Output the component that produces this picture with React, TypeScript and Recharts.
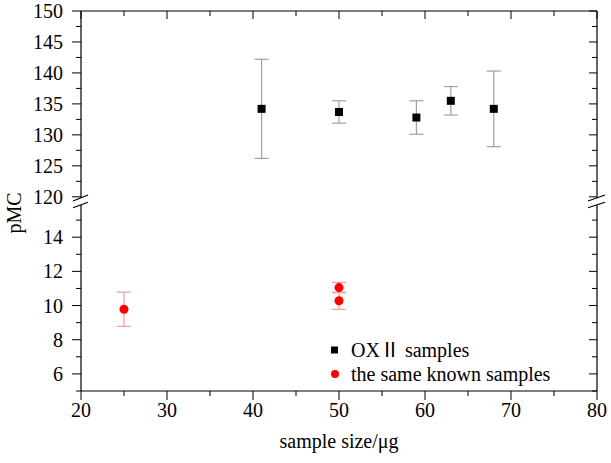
import React from 'react';
import { ScatterChart, Scatter, XAxis, YAxis, ErrorBar } from 'recharts';

const FONT = "'Liberation Serif', 'Noto Sans CJK SC', serif";

// OX II samples (upper panel)
const oxSize = [41, 50, 59, 63, 68];
const oxPmc = [134.2, 133.7, 132.8, 135.5, 134.2];
const oxErr = [8.0, 1.8, 2.7, 2.3, 6.1];

// the same known samples (lower panel)
const knownSize = [25, 50, 50];
const knownPmc = [9.78, 11.05, 10.28];
const knownErr = [1.0, 0.3, 0.5];

const xMajor = [20, 30, 40, 50, 60, 70, 80];
const xMinor = [25, 35, 45, 55, 65, 75];
const upperMajor = [120, 125, 130, 135, 140, 145, 150];
const upperMinor = [122.5, 127.5, 132.5, 137.5, 142.5, 147.5];
const lowerMajor = [6, 8, 10, 12, 14];
const lowerMinor = [5, 7, 9, 11, 13, 15];

const oxData = oxSize.map((x, i) => ({ x, y: oxPmc[i], err: oxErr[i] }));
const knownData = knownSize.map((x, i) => ({ x, y: knownPmc[i], err: knownErr[i] }));

const sortNum = (a: number[], b: number[]) => [...a, ...b].sort((p, q) => p - q);

type Side = 'left' | 'right' | 'top' | 'bottom';

// tick line + label drawn from the axis point the library hands over
const makeTick = (side: Side, majors: number[], labels: boolean) => (props: any) => {
  const { x, y, payload } = props;
  const v = payload.value;
  const major = majors.includes(v);
  const len = major ? (side === 'left' || side === 'bottom' ? 9 : 8) : 5;
  let line;
  if (side === 'left') line = <line x1={x - len} y1={y} x2={x} y2={y} stroke="#000" />;
  else if (side === 'right') line = <line x1={x - len} y1={y} x2={x} y2={y} stroke="#000" />;
  else line = <line x1={x} y1={y} x2={x} y2={y + len} stroke="#000" />;
  let label = null;
  if (labels && major) {
    if (side === 'left')
      label = (
        <text x={x - 18} y={y + 7} textAnchor="end" fontFamily={FONT} fontSize={20} fill="#000">
          {v}
        </text>
      );
    if (side === 'bottom')
      label = (
        <text x={x} y={y + 26} textAnchor="middle" fontFamily={FONT} fontSize={20} fill="#000">
          {v}
        </text>
      );
  }
  return (
    <g>
      {line}
      {label}
    </g>
  );
};

const axisStroke = { stroke: '#000', strokeWidth: 1.2 };

export default function App() {
  return (
    <div style={{ position: 'absolute', left: 0, top: 0, width: 611, height: 463, background: '#fff' }}>
      <style>{`.recharts-surface{overflow:visible}`}</style>
      <div style={{ position: 'absolute', left: 0, top: 0 }}>
        <ScatterChart width={611} height={203} margin={{ top: 10, right: 13, left: 0, bottom: 0 }}>
          <XAxis
            type="number"
            dataKey="x"
            orientation="top"
            height={1}
            domain={[20, 80]}
            ticks={sortNum(xMajor, xMinor)}
            interval={0}
            tickSize={0}
            tickMargin={0}
            tickLine={false}
            axisLine={axisStroke}
            tick={makeTick('top', xMajor, false)}
          />
          <YAxis
            type="number"
            dataKey="y"
            width={81}
            domain={[119, 150]}
            allowDataOverflow
            ticks={sortNum(upperMajor, upperMinor)}
            interval={0}
            tickSize={0}
            tickMargin={0}
            tickLine={false}
            axisLine={axisStroke}
            tick={makeTick('left', upperMajor, true)}
          />
          <YAxis
            yAxisId="r"
            type="number"
            orientation="right"
            width={1}
            domain={[119, 150]}
            allowDataOverflow
            ticks={sortNum(upperMajor, upperMinor)}
            interval={0}
            tickSize={0}
            tickMargin={0}
            tickLine={false}
            axisLine={axisStroke}
            tick={makeTick('right', upperMajor, false)}
          />
          <Scatter name="OXⅡ samples" data={oxData} fill="#000" shape="square" isAnimationActive={false}>
            <ErrorBar dataKey="err" direction="y" width={7} stroke="#a0a0a0" strokeWidth={1.2} />
          </Scatter>
        </ScatterChart>
      </div>
      <div style={{ position: 'absolute', left: 0, top: 203 }}>
        <ScatterChart width={611} height={260} margin={{ top: 0, right: 13, left: 0, bottom: 0 }}>
          <XAxis
            type="number"
            dataKey="x"
            height={72}
            domain={[20, 80]}
            ticks={sortNum(xMajor, xMinor)}
            interval={0}
            tickSize={0}
            tickMargin={0}
            tickLine={false}
            axisLine={axisStroke}
            tick={makeTick('bottom', xMajor, true)}
            label={{ value: 'sample size/μg', position: 'insideBottom', offset: 15, fontFamily: FONT, fontSize: 20, fill: '#000' }}
          />
          <YAxis
            type="number"
            dataKey="y"
            width={81}
            domain={[5, 16]}
            allowDataOverflow
            ticks={sortNum(lowerMajor, lowerMinor)}
            interval={0}
            tickSize={0}
            tickMargin={0}
            tickLine={false}
            axisLine={axisStroke}
            tick={makeTick('left', lowerMajor, true)}
          />
          <YAxis
            yAxisId="r"
            type="number"
            orientation="right"
            width={1}
            domain={[5, 16]}
            allowDataOverflow
            ticks={sortNum(lowerMajor, lowerMinor)}
            interval={0}
            tickSize={0}
            tickMargin={0}
            tickLine={false}
            axisLine={axisStroke}
            tick={makeTick('right', lowerMajor, false)}
          />
          <Scatter name="the same known samples" data={knownData} fill="#ff0000" shape="circle" isAnimationActive={false}>
            <ErrorBar dataKey="err" direction="y" width={7} stroke="#f59a9a" strokeWidth={1.2} />
          </Scatter>
        </ScatterChart>
      </div>
      <div
        style={{
          position: 'absolute',
          left: 325,
          top: 338,
          fontFamily: FONT,
          fontSize: 20,
          lineHeight: '24px',
          color: '#000',
          whiteSpace: 'nowrap',
        }}
      >
        <div style={{ display: 'flex', alignItems: 'center', height: 24 }}>
          <svg width={26} height={24}>
            <rect x={6} y={8.5} width={7} height={7} fill="#000" />
          </svg>
          <span>OXⅡ samples</span>
        </div>
        <div style={{ display: 'flex', alignItems: 'center', height: 24 }}>
          <svg width={26} height={24}>
            <circle cx={10} cy={12} r={4} fill="#ff0000" />
          </svg>
          <span>the same known samples</span>
        </div>
      </div>
      <svg width={611} height={463} style={{ position: 'absolute', left: 0, top: 0, pointerEvents: 'none' }}>
        <polygon points="73,201 88,195 88,202.3 73,207.7" fill="#fff" />
        <line x1={73} y1={201} x2={88} y2={195} stroke="#000" strokeWidth={1.2} />
        <line x1={73} y1={207.7} x2={88} y2={202.3} stroke="#000" strokeWidth={1.2} />
        <polygon points="588,201 605,195 605,202.3 588,207.7" fill="#fff" />
        <line x1={588} y1={201} x2={605} y2={195} stroke="#000" strokeWidth={1.2} />
        <line x1={588} y1={207.7} x2={605} y2={202.3} stroke="#000" strokeWidth={1.2} />
        <text
          x={21}
          y={213}
          transform="rotate(-90 21 213)"
          textAnchor="middle"
          fontFamily={FONT}
          fontSize={20}
          fill="#000"
        >
          pMC
        </text>
      </svg>
    </div>
  );
}
